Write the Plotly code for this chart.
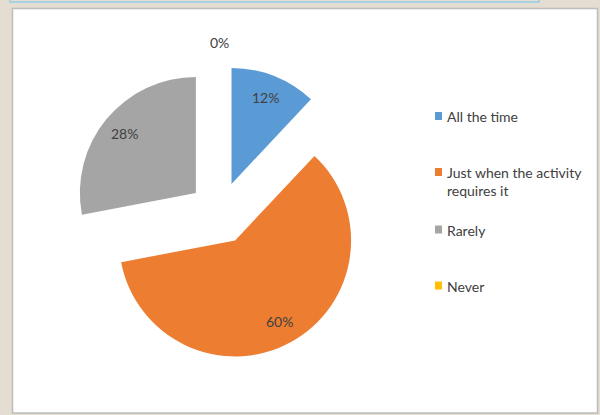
import math
import plotly.graph_objects as go

labels = ["All the time", "Just when the activity requires it", "Rarely", "Never"]
legend_text = ["All the time", "Just when the activity<br>requires it", "Rarely", "Never"]
values = [12, 60, 28, 0]
colors = ["#5b9bd5", "#ed7d31", "#a5a5a5", "#ffc000"]

W, H = 600, 415
FONT = "Lato"
TXT = "#404040"

# pie geometry (pixels, top-left origin)
CX, CY = 220, 213
PULL = 0.27
R = 116
OUTER = R * (1 + PULL)


def px(x):
    return x / W


def py(y):
    return 1 - y / H


fig = go.Figure()
fig.add_trace(go.Pie(
    labels=labels,
    values=values,
    sort=False,
    direction="clockwise",
    rotation=0,
    marker=dict(colors=colors, line=dict(width=0)),
    pull=[PULL] * len(values),
    textinfo="none",
    domain=dict(x=[px(CX - OUTER), px(CX + OUTER)], y=[py(CY + OUTER), py(CY - OUTER)]),
    showlegend=False,
    hoverinfo="label+percent",
))

shapes = [
    # outer window strip at top
    dict(type="rect", xref="paper", yref="paper", x0=px(10), x1=px(539), y0=py(2), y1=py(-6),
         line=dict(color="#a6d2e2", width=2), fillcolor="#e4ddd1", layer="below"),
    # chart area
    dict(type="rect", xref="paper", yref="paper", x0=px(12.5), x1=px(597.5), y0=py(413), y1=py(8.5),
         line=dict(color="#bdbdbd", width=1.5), fillcolor="white", layer="below"),
]

annotations = []

# percentage labels placed along each slice's bisector
total = sum(values)
cum = 0
for v in values:
    frac = v / total
    theta = 2 * math.pi * (cum + frac / 2)
    cum += frac
    if v > 0:
        dist = PULL * R + 0.8 * R
    else:
        dist = OUTER + 23
    lx = CX + dist * math.sin(theta)
    ly = CY - dist * math.cos(theta)
    annotations.append(dict(xref="paper", yref="paper", x=px(lx), y=py(ly),
                            xanchor="center", yanchor="middle", showarrow=False,
                            text=f"{round(frac * 100)}%",
                            font=dict(family=FONT, size=14, color=TXT)))

# legend
leg_y = [116, 172, 229.5, 285.5]
for name, col, yc in zip(legend_text, colors, leg_y):
    shapes.append(dict(type="rect", xref="paper", yref="paper",
                       x0=px(435), x1=px(442), y0=py(yc + 4), y1=py(yc - 4),
                       line=dict(width=0), fillcolor=col))
    annotations.append(dict(xref="paper", yref="paper", x=px(445), y=py(yc - 10),
                            xanchor="left", yanchor="top", align="left", showarrow=False,
                            text=name, font=dict(family=FONT, size=14, color=TXT)))

fig.update_layout(
    width=W, height=H,
    margin=dict(l=0, r=0, t=0, b=0),
    paper_bgcolor="#e4ddd1",
    shapes=shapes,
    annotations=annotations,
    showlegend=False,
)

fig.write_html(
    "out.html",
    config={"displayModeBar": False},
    post_script=(
        "document.body.style.margin='0';"
        "document.body.style.overflow='hidden';"
        "var d=document.getElementById('{plot_id}');"
        "d.style.position='absolute';d.style.left='0px';d.style.top='0px';"
    ),
)
